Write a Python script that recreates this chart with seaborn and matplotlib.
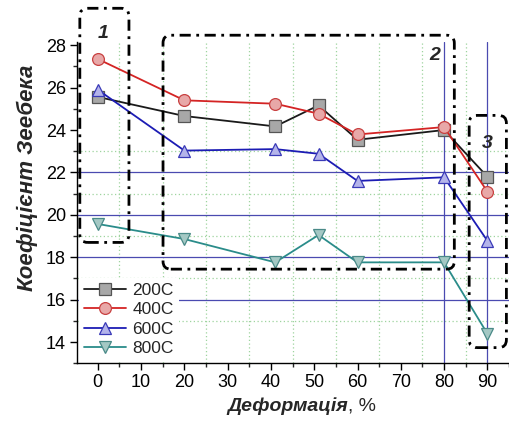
import numpy as np
import pandas as pd
import matplotlib
matplotlib.use("Agg")
import matplotlib.pyplot as plt
from matplotlib.patches import FancyBboxPatch
from matplotlib.ticker import MultipleLocator
import seaborn as sns

# Дані
deform = [0, 20, 41, 51, 60, 80, 90]
s200 = [25.56, 24.66, 24.17, 25.16, 23.54, 24.0, 21.8]
s400 = [27.35, 25.4, 25.24, 24.77, 23.79, 24.14, 21.1]
s600 = [25.9, 23.03, 23.1, 22.88, 21.6, 21.77, 18.78]
s800 = [19.57, 18.86, 17.76, 19.05, 17.76, 17.76, 14.4]
series_names = ["200C", "400C", "600C", "800C"]

df = pd.DataFrame({
    "x": deform * 4,
    "y": s200 + s400 + s600 + s800,
    "series": np.repeat(series_names, len(deform)),
})

sns.set_style("ticks")
plt.rcParams["font.family"] = ["Liberation Sans", "DejaVu Sans"]

fig = plt.figure(figsize=(5.09, 4.23), dpi=100)
ax = fig.add_axes([0.1513, 0.1411, 0.8487, 0.7596])

# сітка: зелені пунктирні та сині лінії
for xv in np.arange(5, 90, 10):
    ax.axvline(xv, color="#9fd49f", linestyle=(0, (1, 2)), linewidth=0.9, zorder=0)
for yv in [15, 17, 19, 21, 23]:
    ax.axhline(yv, color="#9fd49f", linestyle=(0, (1, 2)), linewidth=0.9, zorder=0)
for yv in [16, 18, 20, 22]:
    ax.axhline(yv, color="#4a4ab0", linewidth=0.9, zorder=1)
for xv in [80, 90]:
    ax.axvline(xv, color="#4a4ab0", linewidth=0.9, zorder=1)

styles = {
    "200C": dict(color="#1a1a1a", marker="s", mfc="#a8a8a8", mec="#555555"),
    "400C": dict(color="#d42424", marker="o", mfc="#e8a8a8", mec="#c84040"),
    "600C": dict(color="#1c1cb4", marker="^", mfc="#b4b4ea", mec="#3a3ab8"),
    "800C": dict(color="#2a8c8a", marker="v", mfc="#a4c8c4", mec="#4a8a88"),
}
for name in series_names:
    st = styles[name]
    sns.lineplot(data=df[df["series"] == name], x="x", y="y", ax=ax,
                 color=st["color"], marker=st["marker"], markersize=8.5,
                 markerfacecolor=st["mfc"], markeredgecolor=st["mec"],
                 markeredgewidth=0.9, linewidth=1.3, label=name, zorder=3)

ax.set_xlim(-4.8, 95)
ax.set_ylim(13, 28.15)
ax.xaxis.set_major_locator(MultipleLocator(10))
ax.xaxis.set_minor_locator(MultipleLocator(5))
ax.yaxis.set_major_locator(MultipleLocator(2))
ax.yaxis.set_minor_locator(MultipleLocator(1))
ax.set_xticks(range(0, 91, 10))
ax.tick_params(axis="both", which="major", direction="out", length=5, width=1,
               labelsize=13, colors="black", pad=3)
ax.tick_params(axis="both", which="minor", direction="out", length=3, width=1)
sns.despine(ax=ax)
for sp in ["left", "bottom"]:
    ax.spines[sp].set_color("black")
    ax.spines[sp].set_linewidth(1)

ax.set_xlabel("Деформація", fontsize=14, fontweight="bold", fontstyle="italic")
ax.xaxis.set_label_coords(0.488, -0.105)
ax.annotate(", %", xy=(1, 0), xycoords=ax.xaxis.label, va="bottom", ha="left",
            fontsize=14)
ax.set_ylabel("Коефіцієнт Зеебека", fontsize=16, fontweight="bold",
              fontstyle="italic")
ax.yaxis.set_label_coords(-0.09, 0.577)

leg = ax.legend(loc="lower left", bbox_to_anchor=(0, 0), borderaxespad=0.1,
                fontsize=12.5, frameon=True, framealpha=1, edgecolor="white",
                fancybox=False, handlelength=2.4, labelspacing=0.25,
                handletextpad=0.4, borderpad=0.3)
leg.get_frame().set_linewidth(0)
leg.set_zorder(5)

# пунктирні рамки областей
boxes = [(-4.15, 18.7, 11.35, 11.04), (15.07, 17.44, 67.3, 11.03),
         (85.8, 13.74, 8.6, 10.95)]
for bx, by, bw, bh in boxes:
    p = FancyBboxPatch((bx, by), bw, bh,
                       boxstyle="round,pad=0,rounding_size=1.8",
                       mutation_aspect=0.205, fill=False, edgecolor="black",
                       linewidth=2, linestyle=(0, (4, 2, 1, 2)),
                       clip_on=False, zorder=4)
    ax.add_patch(p)
for lab, lx, ly in [("1", 1.15, 28.55), ("2", 77.8, 27.53), ("3", 90, 23.38)]:
    ax.text(lx, ly, lab, fontsize=14, fontweight="bold", fontstyle="italic",
            ha="center", va="center", zorder=6)

fig.savefig("out.png", dpi=100)
